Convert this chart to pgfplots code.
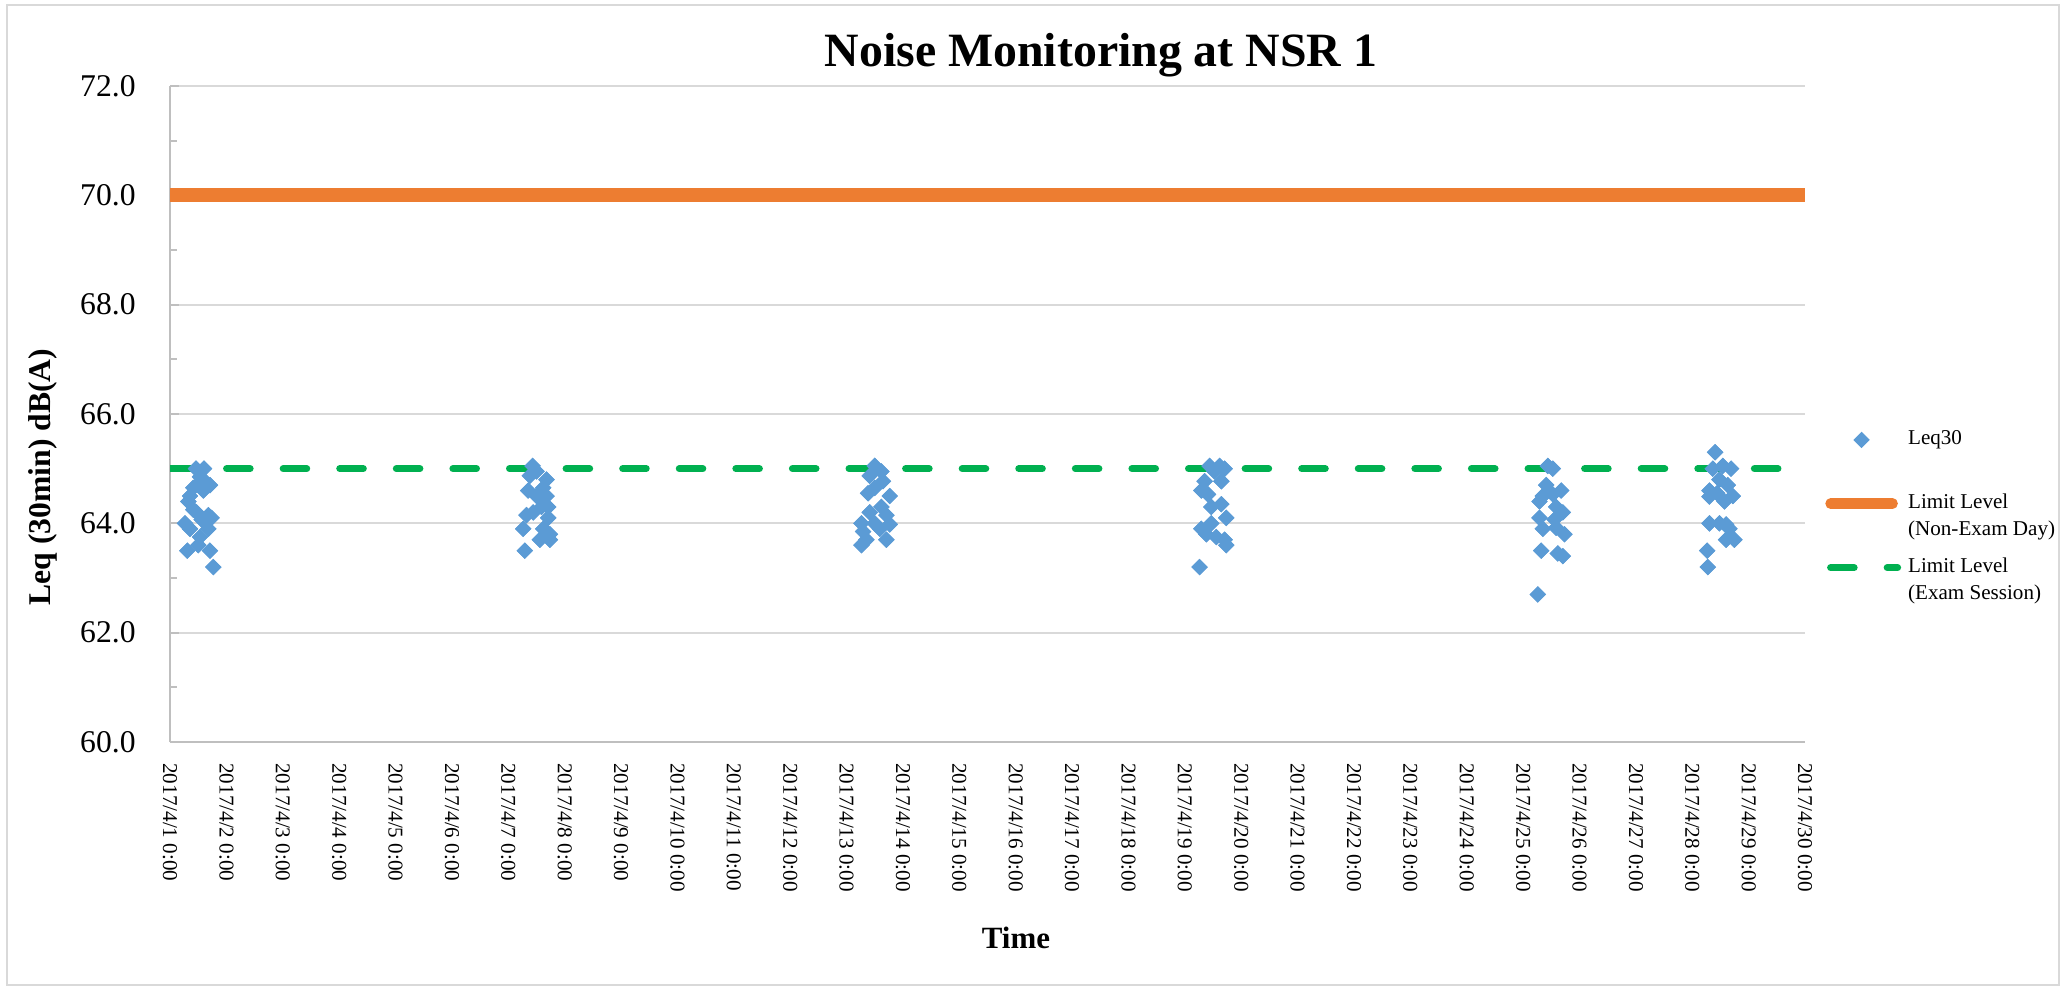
\documentclass[border=0pt]{standalone}
\usepackage{fontspec}
\setmainfont{Liberation Serif}
\usepackage{pgfplots}
\usepackage{pgfplotstable}
\pgfplotsset{compat=1.18}
\definecolor{leqblue}{HTML}{5B9BD5}
\definecolor{limorange}{HTML}{ED7D31}
\definecolor{limgreen}{HTML}{00B050}
\definecolor{gridgray}{HTML}{D9D9D9}
\definecolor{axgray}{HTML}{BFBFBF}

\pgfplotsset{
  marklegend/.style={legend image code/.code={\draw[mark repeat=2,mark phase=2,##1] plot coordinates {(0cm,3.85pt) (0.36cm,3.85pt) (0.72cm,3.85pt)};}},
  orangelegend/.style={legend image code/.code={\draw[##1, line width=3pt, line cap=round] (0.05cm,3.85pt) -- (0.67cm,3.85pt);}},
  greenlegend/.style={legend image code/.code={\draw[##1] (0.05cm,3.85pt) -- (0.72cm,3.85pt);}},
}

% x = days since 2017/4/1 0:00, y = Leq30 dB(A)
\pgfplotstableread{
x y
0.461 65.0
0.603 65.0
0.532 64.85
0.621 64.77
0.709 64.7
0.503 64.72
0.591 64.6
0.414 64.65
0.355 64.5
0.325 64.4
0.414 64.25
0.473 64.2
0.680 64.15
0.739 64.1
0.562 64.07
0.266 64.0
0.355 63.9
0.680 63.9
0.532 63.75
0.502 63.6
0.307 63.5
0.709 63.5
0.768 63.2
6.431 65.05
6.502 64.95
6.383 64.87
6.679 64.8
6.353 64.6
6.619 64.65
6.502 64.5
6.679 64.5
6.590 64.3
6.708 64.3
6.442 64.2
6.324 64.15
6.708 64.1
6.265 63.9
6.619 63.9
6.738 63.8
6.560 63.7
6.738 63.7
6.294 63.5
12.500 65.05
12.618 64.95
12.411 64.87
12.647 64.77
12.381 64.55
12.766 64.5
12.500 64.65
12.411 64.2
12.618 64.3
12.707 64.15
12.264 64.0
12.500 64.0
12.766 63.98
12.293 63.85
12.589 63.9
12.352 63.7
12.707 63.7
12.264 63.6
18.440 65.05
18.617 65.05
18.706 65.0
18.528 64.95
18.351 64.77
18.647 64.77
18.292 64.6
18.410 64.53
18.469 64.3
18.647 64.35
18.735 64.1
18.469 64.0
18.292 63.9
18.381 63.8
18.558 63.75
18.706 63.7
18.735 63.6
18.262 63.2
24.438 65.05
24.527 65.0
24.409 64.7
24.675 64.6
24.350 64.5
24.527 64.53
24.291 64.4
24.586 64.3
24.705 64.2
24.291 64.1
24.557 64.07
24.350 63.9
24.586 63.92
24.734 63.8
24.320 63.5
24.616 63.45
24.705 63.4
24.261 62.7
27.406 65.3
27.364 65.0
27.541 65.05
27.689 65.0
27.482 64.8
27.630 64.7
27.305 64.6
27.441 64.55
27.719 64.5
27.305 64.49
27.571 64.4
27.305 64.0
27.482 64.0
27.600 63.98
27.660 63.9
27.600 63.7
27.748 63.7
27.264 63.5
27.276 63.2
}\leqdata

\begin{document}
\begin{tikzpicture}
\useasboundingbox (0,0) rectangle (20.67,-9.90);
\draw[gridgray, line width=0.6pt] (0.07,-0.05) rectangle (20.59,-9.85);
\node[font=\fontsize{13.6}{16}\selectfont\bfseries] at (11.01,-0.55) {Noise Monitoring at NSR 1};
\begin{axis}[
  at={(1.70cm,-7.42cm)}, anchor=south west,
  scale only axis, width=16.35cm, height=6.56cm,
  xmin=0, xmax=29, ymin=60, ymax=72,
  axis lines=left,
  axis line style={-, draw=axgray, line width=0.6pt},
  /pgf/number format/assume math mode=true,
  ytick={60,62,...,72}, minor ytick={61,63,...,71},
  ymajorgrids, major grid style={draw=gridgray, line width=0.6pt},
  tick align=inside, major tick length=0.09cm, minor tick length=0.07cm,
  y tick style={draw=axgray, line width=0.6pt},
  x tick style={draw=none},
  y tick label style={/pgf/number format/.cd, fixed, fixed zerofill, precision=1, /tikz/.cd,
    font=\fontsize{9}{10}\selectfont, xshift=-0.22cm},
  xtick={0,...,29},
  xticklabels={2017/4/1 0:00,2017/4/2 0:00,2017/4/3 0:00,2017/4/4 0:00,2017/4/5 0:00,
    2017/4/6 0:00,2017/4/7 0:00,2017/4/8 0:00,2017/4/9 0:00,2017/4/10 0:00,
    2017/4/11 0:00,2017/4/12 0:00,2017/4/13 0:00,2017/4/14 0:00,2017/4/15 0:00,
    2017/4/16 0:00,2017/4/17 0:00,2017/4/18 0:00,2017/4/19 0:00,2017/4/20 0:00,
    2017/4/21 0:00,2017/4/22 0:00,2017/4/23 0:00,2017/4/24 0:00,2017/4/25 0:00,
    2017/4/26 0:00,2017/4/27 0:00,2017/4/28 0:00,2017/4/29 0:00,2017/4/30 0:00},
  x tick label style={yshift=-0.09cm, rotate=-90, anchor=west, font=\fontsize{6}{7}\selectfont},
  xlabel={Time},
  xlabel style={at={(axis description cs:0.5174,-0.2988)}, anchor=center, font=\fontsize{8.8}{10}\selectfont\bfseries},
  ylabel={Leq (30min) dB(A)},
  ylabel style={at={(axis description cs:-0.0777,0.404)}, anchor=center, font=\fontsize{9}{10}\selectfont\bfseries},
  legend style={at={(axis description cs:1.012,0.487)}, anchor=north west, draw=none, fill=none,
    inner sep=0pt, font=\fontsize{6}{7.7}\selectfont, row sep=0.03cm},
  legend cell align=left,
  legend style={cells={align=left}},
]
\addplot[only marks, mark=square*, mark options={rotate=45}, mark size=1.45pt, color=leqblue, marklegend]
  table[x=x,y=y] {\leqdata};
\addlegendentry{Leq30\\\strut}
\addplot[limorange, line width=4pt, orangelegend]
  coordinates {(0,70) (29,70)};
\addlegendentry{Limit Level\\(Non-Exam Day)}
\addplot[limgreen, line width=2pt, line cap=round, dash pattern=on 6.7pt off 9.4pt, greenlegend]
  coordinates {(0,65) (29,65)};
\addlegendentry{Limit Level\\(Exam Session)}
\addplot[only marks, mark=square*, mark options={rotate=45}, mark size=1.45pt, color=leqblue, forget plot]
  table[x=x,y=y] {\leqdata};
\end{axis}
\end{tikzpicture}
\end{document}
